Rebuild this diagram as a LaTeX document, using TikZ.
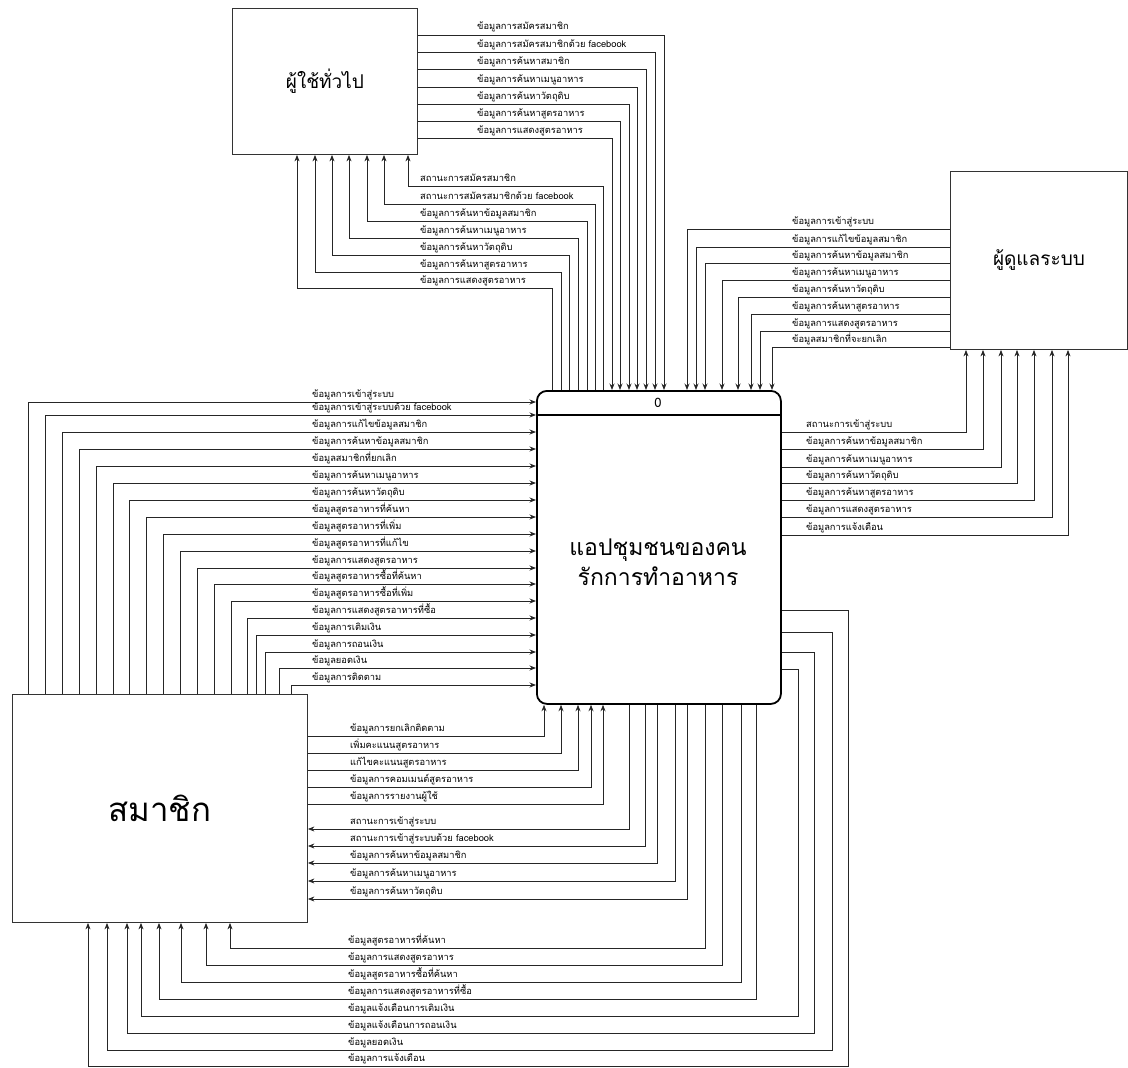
\documentclass[tikz,border=0pt]{standalone}
\usepackage{fontspec}
\newfontfamily\thaifont[Script=Thai]{Loma}
\usetikzlibrary{arrows.meta}

\tikzset{
  entity/.style={draw=black!80, line width=0.9pt, anchor=north west, inner sep=0pt,
    font=\thaifont\fontsize{19}{21}\selectfont},
  procbox/.style={draw=black, line width=1.8pt, rounded corners=10pt, anchor=north west, inner sep=0pt},
  flow/.style={draw=black!85, line width=0.8pt, -{Stealth[length=6.5pt,width=5pt]}},
  flowlabel/.style={anchor=base west, inner sep=0pt, font=\thaifont\fontsize{9.3}{10}\selectfont},
}

\begin{document}
\begin{tikzpicture}[x=1pt, y=-1pt]

\useasboundingbox (0,0) rectangle (1128,1068);

% entities and the process
\node[entity, minimum width=185pt, minimum height=146pt] (user) at (232,8) {ผู้ใช้ทั่วไป};
\node[entity, minimum width=177pt, minimum height=178pt] (admin) at (950,171) {ผู้ดูแลระบบ};
\node[entity, minimum width=295pt, minimum height=228pt, font=\thaifont\fontsize{33}{35}\selectfont] (member) at (12,694) {สมาชิก};
\node[procbox, minimum width=244pt, minimum height=313pt] (proc) at (536,390) {};
\draw[line width=1.8pt] (proc.west |- 0,415) -- (proc.east |- 0,415);
\node[font=\thaifont\fontsize{13}{14}\selectfont] (procid) at (658,403) {0};
\node[align=center, font=\thaifont\fontsize{23}{30}\selectfont] (proctext) at (658,562) {แอปชุมชนของคน\\รักการทำอาหาร};

% general user -> system
\foreach \yy/\xx/\txt [count=\i] in {35/664/ข้อมูลการสมัครสมาชิก, 52/655/ข้อมูลการสมัครสมาชิกด้วย facebook,
    69/646/ข้อมูลการค้นหาสมาชิก, 87/637/ข้อมูลการค้นหาเมนูอาหาร, 104/629/ข้อมูลการค้นหาวัตถุดิบ,
    121/620/ข้อมูลการค้นหาสูตรอาหาร, 138/612/ข้อมูลการแสดงสูตรอาหาร} {
  \draw[flow] (user.east |- 0,\yy) -| (\xx,0 |- proc.north);
  \node[flowlabel] (uin\i) at (477,\yy-5) {\txt};
}

% system -> general user
\foreach \xs/\yy/\xa/\txt [count=\i] in {603/186/408/สถานะการสมัครสมาชิก, 595/204/384/สถานะการสมัครสมาชิกด้วย facebook,
    587/221/367/ข้อมูลการค้นหาข้อมูลสมาชิก, 578/238/349/ข้อมูลการค้นหาเมนูอาหาร, 569/255/332/ข้อมูลการค้นหาวัตถุดิบ,
    561/272/315/ข้อมูลการค้นหาสูตรอาหาร, 552/288/297/ข้อมูลการแสดงสูตรอาหาร} {
  \draw[flow] (\xs,0 |- proc.north) |- (\xa,\yy) -- (\xa,0 |- user.south);
  \node[flowlabel] (uout\i) at (420,\yy-5) {\txt};
}

% admin -> system
\foreach \yy/\xx/\txt [count=\i] in {229/687/ข้อมูลการเข้าสู่ระบบ, 247/696/ข้อมูลการแก้ไขข้อมูลสมาชิก,
    263/705/ข้อมูลการค้นหาข้อมูลสมาชิก, 280/722/ข้อมูลการค้นหาเมนูอาหาร, 297/738/ข้อมูลการค้นหาวัตถุดิบ,
    314/751/ข้อมูลการค้นหาสูตรอาหาร, 331/760/ข้อมูลการแสดงสูตรอาหาร, 347/772/ข้อมูลสมาชิกที่จะยกเลิก} {
  \draw[flow] (admin.west |- 0,\yy) -| (\xx,0 |- proc.north);
  \node[flowlabel] (ain\i) at (792,\yy-5) {\txt};
}

% system -> admin
\foreach \yy/\xx/\txt [count=\i] in {432/966/สถานะการเข้าสู่ระบบ, 449/983/ข้อมูลการค้นหาข้อมูลสมาชิก,
    467/1001/ข้อมูลการค้นหาเมนูอาหาร, 483/1017/ข้อมูลการค้นหาวัตถุดิบ, 500/1034/ข้อมูลการค้นหาสูตรอาหาร,
    517/1052/ข้อมูลการแสดงสูตรอาหาร, 535/1068/ข้อมูลการแจ้งเตือน} {
  \draw[flow] (proc.east |- 0,\yy) -| (\xx,0 |- admin.south);
  \node[flowlabel] (aout\i) at (806,\yy-5) {\txt};
}

% member -> system (left side)
\foreach \yy/\xx/\txt [count=\i] in {402/28/ข้อมูลการเข้าสู่ระบบ, 415/45/ข้อมูลการเข้าสู่ระบบด้วย facebook,
    432/62/ข้อมูลการแก้ไขข้อมูลสมาชิก, 449/79/ข้อมูลการค้นหาข้อมูลสมาชิก, 466/96/ข้อมูลสมาชิกที่ยกเลิก,
    483/113/ข้อมูลการค้นหาเมนูอาหาร, 500/129/ข้อมูลการค้นหาวัตถุดิบ, 517/146/ข้อมูลสูตรอาหารที่ค้นหา,
    534/163/ข้อมูลสูตรอาหารที่เพิ่ม, 551/180/ข้อมูลสูตรอาหารที่แก้ไข, 568/197/ข้อมูลการแสดงสูตรอาหาร,
    584/214/ข้อมูลสูตรอาหารซื้อที่ค้นหา, 601/231/ข้อมูลสูตรอาหารซื้อที่เพิ่ม, 618/247/ข้อมูลการแสดงสูตรอาหารที่ซื้อ,
    635/256/ข้อมูลการเติมเงิน, 652/265/ข้อมูลการถอนเงิน, 668/279/ข้อมูลยอดเงิน, 685/291/ข้อมูลการติดตาม} {
  \draw[flow] (\xx,0 |- member.north) |- (proc.west |- 0,\yy);
  \node[flowlabel] (min\i) at (312,\yy-5) {\txt};
}

% member -> system (bottom side)
\foreach \yy/\xx/\txt [count=\i] in {736/544/ข้อมูลการยกเลิกติดตาม, 753/561/เพิ่มคะแนนสูตรอาหาร,
    770/578/แก้ไขคะแนนสูตรอาหาร, 787/591/ข้อมูลการคอมเมนต์สูตรอาหาร, 804/603/ข้อมูลการรายงานผู้ใช้} {
  \draw[flow] (member.east |- 0,\yy) -| (\xx,0 |- proc.south);
  \node[flowlabel] (mup\i) at (350,\yy-5) {\txt};
}

% system -> member (right side)
\foreach \xx/\yy/\txt [count=\i] in {629/829/สถานะการเข้าสู่ระบบ, 645/846/สถานะการเข้าสู่ระบบด้วย facebook,
    657/863/ข้อมูลการค้นหาข้อมูลสมาชิก, 675/881/ข้อมูลการค้นหาเมนูอาหาร, 687/899/ข้อมูลการค้นหาวัตถุดิบ} {
  \draw[flow] (\xx,0 |- proc.south) |- (member.east |- 0,\yy);
  \node[flowlabel] (mout\i) at (350,\yy-5) {\txt};
}

% system -> member (bottom side)
\foreach \xs/\yy/\xa/\txt [count=\i] in {705/948/230/ข้อมูลสูตรอาหารที่ค้นหา, 722/965/206/ข้อมูลการแสดงสูตรอาหาร,
    741/982/181/ข้อมูลสูตรอาหารซื้อที่ค้นหา, 756/999/159/ข้อมูลการแสดงสูตรอาหารที่ซื้อ} {
  \draw[flow] (\xs,0 |- proc.south) |- (\xa,\yy) -- (\xa,0 |- member.south);
  \node[flowlabel] (mbot\i) at (348,\yy-5) {\txt};
}
\foreach \ys/\xs/\yy/\xa/\txt [count=\i] in {669/798/1016/141/ข้อมูลแจ้งเตือนการเติมเงิน,
    652/814/1033/127/ข้อมูลแจ้งเตือนการถอนเงิน, 632/832/1050/107/ข้อมูลยอดเงิน, 610/848/1066/88/ข้อมูลการแจ้งเตือน} {
  \draw[flow] (proc.east |- 0,\ys) -| (\xs,\yy) -| (\xa,0 |- member.south);
  \node[flowlabel] (mnote\i) at (348,\yy-5) {\txt};
}

\end{tikzpicture}
\end{document}
